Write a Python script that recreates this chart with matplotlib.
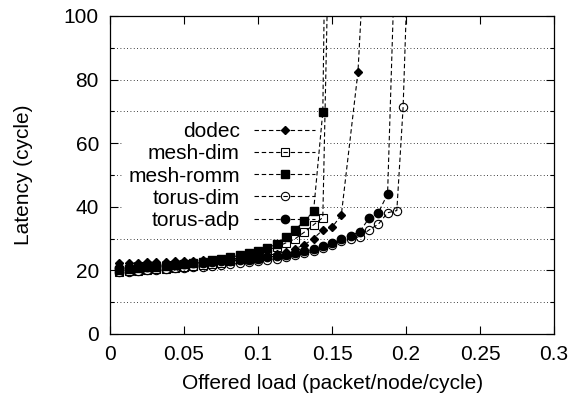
import matplotlib
matplotlib.use("Agg")
import matplotlib.pyplot as plt
from matplotlib.ticker import MultipleLocator

plt.rcParams['font.family'] = ['Liberation Sans', 'DejaVu Sans']

# offered load grid (packet/node/cycle)
load = [0.00625, 0.0125, 0.01875, 0.025, 0.03125, 0.0375, 0.04375, 0.05,
        0.05625, 0.0625, 0.06875, 0.075, 0.08125, 0.0875, 0.09375, 0.1,
        0.10625, 0.1125, 0.11875, 0.125, 0.13125, 0.1375, 0.14375, 0.15,
        0.15625, 0.1625, 0.16875, 0.175, 0.18125, 0.1875, 0.19375]

# dodec
dodec_x = load[:25] + [0.1675, 0.175]
dodec_y = [22.2, 22.3, 22.4, 22.5, 22.6, 22.7, 22.8, 22.9, 23.0, 23.1, 23.2,
           23.4, 23.6, 23.8, 24.0, 24.3, 24.7, 25.2, 25.9, 26.8, 28.0, 30.0,
           32.7, 33.5, 37.4, 82.4, 148]

# mesh-dim
mdim_x = load[:24]
mdim_y = [19.5, 19.7, 19.9, 20.1, 20.3, 20.5, 20.8, 21.0, 21.3, 21.6, 22.0,
          22.4, 22.9, 23.5, 24.3, 25.3, 26.3, 27.4, 28.6, 29.9, 32.0, 34.3,
          36.6, 175]

# mesh-romm
mromm_x = load[:23] + [0.146]
mromm_y = [20.0, 20.3, 20.6, 20.9, 21.1, 21.4, 21.7, 22.0, 22.3, 22.7, 23.1,
           23.5, 24.1, 24.7, 25.4, 26.2, 27.1, 28.2, 30.5, 32.8, 35.4, 38.6,
           69.9, 150]

# torus-dim
tdim_x = load[:31] + [0.198, 0.203]
tdim_y = [19.4, 19.6, 19.8, 20.0, 20.2, 20.4, 20.6, 20.8, 21.0, 21.2, 21.4,
          21.6, 21.9, 22.2, 22.5, 22.9, 23.3, 23.7, 24.2, 24.7, 25.3, 26.1,
          26.9, 28.0, 29.3, 29.9, 30.6, 32.7, 34.5, 38.1, 38.8, 71.3, 143]

# torus-adp
tadp_x = load[:31]
tadp_y = [20.6, 20.8, 21.0, 21.2, 21.4, 21.6, 21.8, 22.0, 22.2, 22.4, 22.6,
          22.8, 23.0, 23.2, 23.4, 23.7, 24.1, 24.5, 24.9, 25.4, 26.0, 26.6,
          27.7, 28.5, 29.8, 30.9, 32.2, 36.4, 38.1, 44.0, 138]

fs = 15

fig = plt.figure(figsize=(5.76, 3.98), dpi=100)
ax = fig.add_axes([0.191, 0.161, 0.771, 0.799])

ls = (0, (4, 2.5))
kw = dict(color='k', lw=0.8, linestyle=ls)
ax.plot(dodec_x, dodec_y, marker='D', ms=4, label='dodec', **kw)
ax.plot(mdim_x, mdim_y, marker='s', ms=6, mfc='none', mew=0.8, label='mesh-dim', **kw)
ax.plot(mromm_x, mromm_y, marker='s', ms=6, label='mesh-romm', **kw)
ax.plot(tdim_x, tdim_y, marker='o', ms=6, mfc='none', mew=0.8, label='torus-dim', **kw)
ax.plot(tadp_x, tadp_y, marker='o', ms=6, label='torus-adp', **kw)

ax.set_xlim(0, 0.3)
ax.set_ylim(0, 100)
ax.yaxis.set_major_locator(MultipleLocator(20))
ax.yaxis.set_minor_locator(MultipleLocator(10))
ax.set_xticks([0, 0.05, 0.1, 0.15, 0.2, 0.25, 0.3])
ax.set_xticklabels(['0', '0.05', '0.1', '0.15', '0.2', '0.25', '0.3'])
ax.tick_params(which='both', direction='in', top=True, right=True,
               labelsize=fs, width=0.8)
ax.tick_params(which='major', length=6, pad=8)
ax.tick_params(which='minor', length=3)
ax.grid(True, axis='y', which='both', color='k', lw=0.6,
        linestyle=(0, (1, 3)))
ax.set_axisbelow(True)

for s in ax.spines.values():
    s.set_linewidth(0.9)

ax.set_xlabel('Offered load (packet/node/cycle)', fontsize=fs, labelpad=7)
ax.set_ylabel('Latency (cycle)', fontsize=fs, labelpad=22)

leg = ax.legend(loc='upper right', bbox_to_anchor=(0.475, 0.685),
                borderaxespad=0, markerfirst=False, fontsize=fs,
                handlelength=2.9, handletextpad=0.7, labelspacing=0.15,
                borderpad=0.3, frameon=True, fancybox=False,
                edgecolor='none', facecolor='white', framealpha=1)
leg.set_zorder(1.5)

fig.savefig('out.png', dpi=100)
